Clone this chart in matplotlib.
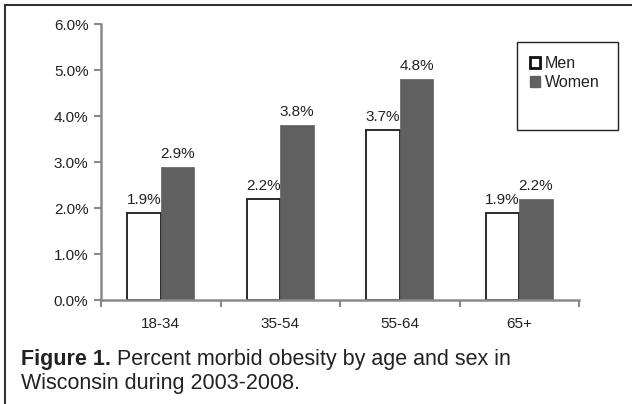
import matplotlib.pyplot as plt
from matplotlib import patches
from matplotlib.lines import Line2D
import numpy as np

ages = ['18-34', '35-54', '55-64', '65+']
men = [1.9, 2.2, 3.7, 1.9]
women = [2.9, 3.8, 4.8, 2.2]
yticks = [0, 1, 2, 3, 4, 5, 6]

plt.rcParams['font.family'] = ['Liberation Sans', 'DejaVu Sans']
ink = '#222222'

W, H = 632, 404
fig = plt.figure(figsize=(W / 100, H / 100), dpi=100)
ax = fig.add_axes([101 / W, 1 - 300 / H, 478 / W, 276 / H])

x = np.arange(len(ages))
bw = 0.28
ax.bar(x - bw / 2, men, bw, color='white', edgecolor='#1a1a1a', linewidth=1.3, zorder=2)
ax.bar(x + bw / 2, women, bw, color='#606060', edgecolor='#606060', linewidth=0.5, zorder=2)

for xi, v in zip(x - bw / 2, men):
    ax.text(xi, v + 0.13, '%.1f%%' % v, ha='center', va='bottom', fontsize=11, color=ink)
for xi, v in zip(x + bw / 2, women):
    ax.text(xi, v + 0.13, '%.1f%%' % v, ha='center', va='bottom', fontsize=11, color=ink)

ax.set_xlim(-0.5, len(ages) - 0.5)
ax.set_ylim(0, 6)
ax.set_yticks(yticks)
ax.set_yticklabels(['%.1f%%' % t for t in yticks], fontsize=11, color=ink)
ax.set_xticks(np.arange(len(ages) + 1) - 0.5)
ax.set_xticklabels([])
ax.set_xticks(x, minor=True)
ax.set_xticklabels(ages, minor=True, fontsize=11, color=ink)
ax.tick_params(axis='x', which='minor', length=0, pad=12)
ax.tick_params(axis='x', which='major', length=5, width=1.5, color='#8a8a8a')
ax.tick_params(axis='y', length=5, width=1.5, color='#8a8a8a', pad=4)
for s in ['top', 'right']:
    ax.spines[s].set_visible(False)
for s in ['left', 'bottom']:
    ax.spines[s].set_color('#8a8a8a')
    ax.spines[s].set_linewidth(1.8)

# legend box
fig.add_artist(patches.Rectangle((517 / W, 1 - 130 / H), 101 / W, 88 / H,
                                 transform=fig.transFigure, fill=False,
                                 edgecolor=ink, linewidth=1.0))
handles = [patches.Patch(facecolor='white', edgecolor='#111111', linewidth=2.0),
           patches.Patch(facecolor='#606060', edgecolor='#606060')]
fig.legend(handles, ['Men', 'Women'], loc='upper left',
           bbox_to_anchor=(530 / W, 1 - 56 / H), frameon=False, fontsize=11.5,
           handlelength=0.65, handleheight=0.65, handletextpad=0.3,
           labelspacing=0.25, borderpad=0, borderaxespad=0, labelcolor=ink)

# caption
lead = fig.text(21 / W, 1 - 365 / H, 'Figure 1.', fontsize=15.5, fontweight='bold',
                va='baseline', ha='left', color=ink)
ax.annotate(' Percent morbid obesity by age and sex in', xy=(1, 0), xycoords=lead,
            va='bottom', ha='left', fontsize=15.5, color=ink, annotation_clip=False)
fig.text(21 / W, 1 - 389 / H, 'Wisconsin during 2003-2008.', fontsize=15.5,
         va='baseline', ha='left', color=ink)

# page frame
fig.add_artist(Line2D([5 / W, 1], [1 - 5 / H, 1 - 5 / H], transform=fig.transFigure,
                      color='#333333', linewidth=1.5))
fig.add_artist(Line2D([5 / W, 5 / W], [0, 1 - 5 / H], transform=fig.transFigure,
                      color='#333333', linewidth=1.5))

fig.savefig('out.png', dpi=100)
